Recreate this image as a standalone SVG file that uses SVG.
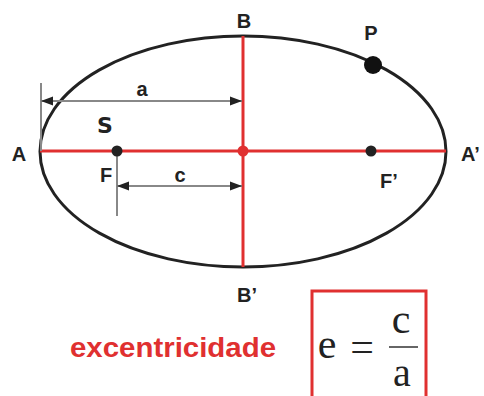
<svg xmlns="http://www.w3.org/2000/svg" width="484" height="396" viewBox="0 0 484 396">
<style>
.lbl{font-family:"Liberation Sans",Arial,sans-serif;font-weight:bold;font-size:20px;fill:#222;text-anchor:middle}
.st{text-anchor:start}
.red{stroke:#e03030;stroke-width:3;fill:none}
.dim{stroke:#888;stroke-width:2;fill:none}
.math{font-family:"Liberation Serif","Times New Roman",serif;font-size:42px;fill:#222;text-anchor:middle}
</style>
<defs>
<marker id="ar" viewBox="0 0 12 10" refX="12" refY="5" markerWidth="12" markerHeight="10" orient="auto-start-reverse" markerUnits="userSpaceOnUse">
<path d="M0,0.5 L12,5 L0,9.5 Z" fill="#222"/>
</marker>
</defs>
<rect width="484" height="396" fill="#fff"/>
<g id="ellipse">
<ellipse cx="243" cy="151.5" rx="203" ry="115.5" fill="none" stroke="#222" stroke-width="3"/>
</g>
<g id="connectors">
<line class="red" x1="40" y1="151" x2="446" y2="151"/>
<line class="red" x1="243" y1="36" x2="243" y2="267"/>
<line class="dim" x1="41" y1="83" x2="41" y2="151"/>
<line class="dim" x1="41" y1="101" x2="242" y2="101" marker-start="url(#ar)" marker-end="url(#ar)"/>
<line class="dim" x1="117" y1="151" x2="117" y2="216"/>
<line class="dim" x1="117" y1="186" x2="242" y2="186" stroke="#444" marker-start="url(#ar)" marker-end="url(#ar)"/>
</g>
<g id="center"><circle cx="243" cy="151" r="5.5" fill="#e03030"/></g>
<g id="F"><circle cx="117" cy="151" r="5.5" fill="#222"/><text class="lbl" x="106" y="182">F</text></g>
<g id="F2"><circle cx="371" cy="151" r="5.5" fill="#222"/><text class="lbl st" x="380" y="188">F’</text></g>
<g id="P"><circle cx="373" cy="65" r="9" fill="#111"/><text class="lbl" x="371" y="40">P</text></g>
<g id="S"><text class="lbl" x="105" y="133" style="font-family:'DejaVu Sans',sans-serif;font-size:22px">S</text></g>
<g id="A"><text class="lbl" x="19" y="161">A</text></g>
<g id="A2"><text class="lbl st" x="461" y="161">A’</text></g>
<g id="B"><text class="lbl" x="244" y="28">B</text></g>
<g id="B2"><text class="lbl st" x="237" y="302">B’</text></g>
<g id="la"><text class="lbl" x="142" y="96">a</text></g>
<g id="lc"><text class="lbl" x="180" y="182">c</text></g>
<g id="ecc"><text x="70" y="357" textLength="206" lengthAdjust="spacingAndGlyphs" style="font-family:'Liberation Sans',Arial,sans-serif;font-weight:bold;font-size:27px;fill:#e03030">excentricidade</text></g>
<g id="formula">
<rect x="312" y="291" width="114" height="108" fill="none" stroke="#e03030" stroke-width="3"/>
<text class="math" x="327" y="358">e</text>
<text class="math" x="362" y="361">=</text>
<text class="math" x="401" y="333">c</text>
<line x1="389" y1="347" x2="418" y2="347" stroke="#333" stroke-width="1.5"/>
<text class="math" x="402" y="386" style="font-size:40px">a</text>
</g>
</svg>
